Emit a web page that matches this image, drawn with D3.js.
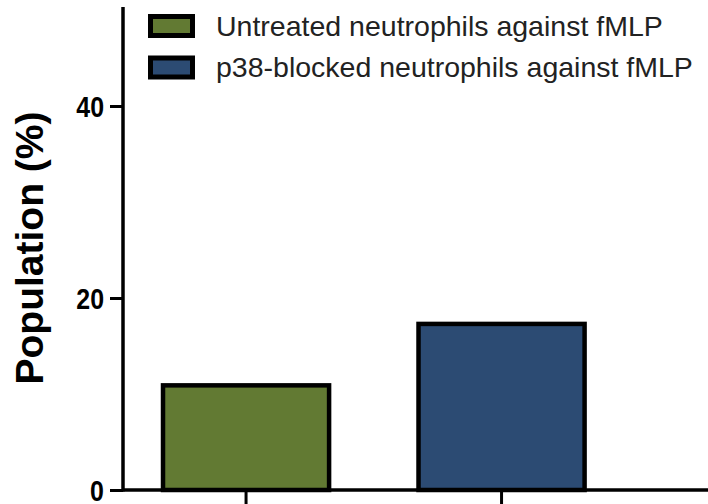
<!DOCTYPE html>
<html><head><meta charset="utf-8">
<script src="https://cdn.jsdelivr.net/npm/d3@7"></script>
<style>body{margin:0;background:#fff}svg{display:block}</style>
</head><body>
<svg id="c" width="708" height="504"></svg>
<script>
const categories = ["Untreated neutrophils against fMLP", "p38-blocked neutrophils against fMLP"];
const values = [10.9, 17.3];
const colors = ["#627a33", "#2c4b73"];
const yTicks = [0, 20, 40];

const svg = d3.select("#c");
const W = 708, H = 504;
const x0 = 123, y0 = 490;
const x = d3.scaleBand().domain(categories).range([x0, 624.6]).paddingInner(0.35).paddingOuter(0.1566);
const y = d3.scaleLinear().domain([0, 50]).range([y0, 10]);

// bars
svg.append("g").selectAll("rect").data(values).join("rect")
  .attr("x", (d,i) => x(categories[i]))
  .attr("y", d => y(d))
  .attr("width", x.bandwidth())
  .attr("height", d => y0 - y(d))
  .attr("fill", (d,i) => colors[i])
  .attr("stroke", "#000").attr("stroke-width", 4.5);

// x axis
const xAxis = svg.append("g").attr("transform", `translate(0,${y0})`)
  .call(d3.axisBottom(x).tickSize(16).tickFormat(""));
xAxis.select(".domain").remove();
xAxis.selectAll("line").attr("stroke", "#000").attr("stroke-width", 3);
svg.append("line").attr("x1", x0).attr("x2", W).attr("y1", y0).attr("y2", y0)
  .attr("stroke", "#000").attr("stroke-width", 3.5);

// y axis
const yAxis = svg.append("g").attr("transform", `translate(${x0},0)`)
  .call(d3.axisLeft(y).tickValues(yTicks).tickSize(13).tickPadding(5).tickSizeOuter(0));
yAxis.select(".domain").attr("stroke", "#000").attr("stroke-width", 3.5)
  .attr("d", `M0,7V${y0+1.5}`);
yAxis.selectAll(".tick line").attr("stroke", "#000").attr("stroke-width", 3);
yAxis.selectAll("text").attr("fill", "#000")
  .attr("x", 0).attr("transform", "translate(-19,0) scale(0.86,1)")
  .style("font-family", "'Liberation Sans', Arial, sans-serif")
  .style("font-weight", "bold").style("font-size", "29px")
  .attr("dy", "0.36em");

// y label
svg.append("text").attr("transform", `translate(43,248) rotate(-90)`)
  .attr("text-anchor", "middle")
  .style("font-family", "'Liberation Sans', Arial, sans-serif")
  .style("font-weight", "bold").style("font-size", "39px").attr("fill", "#000")
  .text("Population (%)");

// legend
const lg = svg.append("g");
const rowY = [26, 67.5];
categories.forEach((c, i) => {
  lg.append("rect").attr("x", 150.5).attr("y", rowY[i] - 9.5).attr("width", 42).attr("height", 19)
    .attr("fill", colors[i]).attr("stroke", "#000").attr("stroke-width", 5);
  lg.append("text").attr("x", 216).attr("y", rowY[i]).attr("dy", "0.35em")
    .style("font-family", "'Liberation Sans', Arial, sans-serif")
    .style("font-size", "28.5px").attr("fill", "#222")
    .text(c);
});
</script>
</body></html>
